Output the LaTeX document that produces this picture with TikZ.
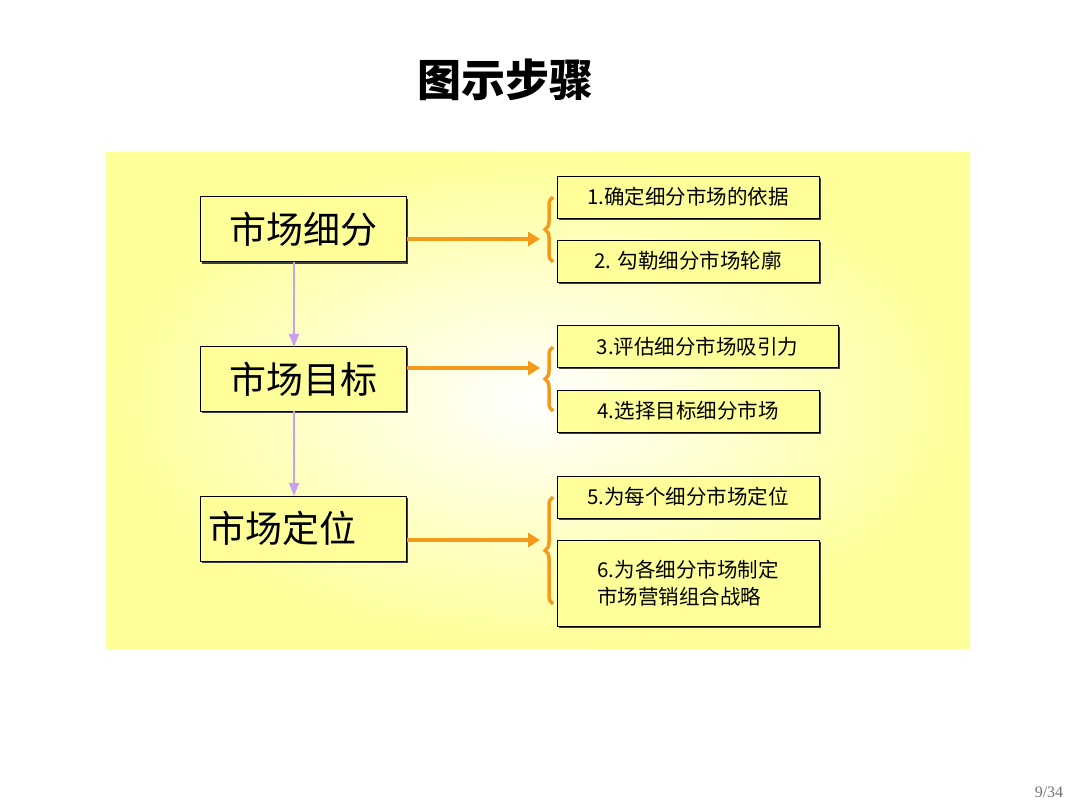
\documentclass[tikz,border=0pt]{standalone}
\usepackage{fontspec}
\setmainfont{Liberation Serif}
\newfontfamily\cjk{Noto Sans CJK SC}
\usetikzlibrary{arrows.meta,decorations.pathreplacing,shadows}
\definecolor{boxy}{HTML}{FFFF99}
\definecolor{orng}{HTML}{F39A1A}
\definecolor{purp}{HTML}{C9A0F0}
\begin{document}
\begin{tikzpicture}[x=1pt,y=-1pt,
  bigbox/.style={draw=black,fill=boxy,line width=1pt,minimum width=206pt,minimum height=65pt,font=\cjk\fontsize{37}{40}\selectfont,drop shadow={shadow xshift=2pt,shadow yshift=-2pt,fill=black!75,opacity=1}},
  smallbox/.style={draw=black,fill=boxy,line width=0.8pt,minimum height=42pt,font=\cjk\fontsize{20.5}{24}\selectfont,drop shadow={shadow xshift=1.6pt,shadow yshift=-1.6pt,fill=black!75,opacity=1}},
  oarrow/.style={draw=orng,line width=4pt,-{Triangle[length=12pt,width=14pt]}},
  parrow/.style={draw=purp,line width=1.8pt,-{Triangle[length=13pt,width=10pt]}},
  brace/.style={draw=orng,line width=3.5pt,decorate,decoration={brace,amplitude=8pt}}]
\useasboundingbox (0,0) rectangle (1080,810);
\fill[white] (0,0) rectangle (1080,810);
\shade[inner color=white,outer color=yellow!40] (106,153) rectangle (970,648);
\node[font=\cjk\bfseries\fontsize{44}{48}\selectfont] (title) at (505,80) {图示步骤};
\node[bigbox] (a) at (303,229.5) {市场细分};
\node[bigbox] (b) at (303,379) {市场目标};
\node[bigbox,text width=190pt,align=left] (c) at (303,528.5) {市场定位};
\node[smallbox,minimum width=262pt] (s1) at (688,197) {1.确定细分市场的依据};
\node[smallbox,minimum width=262pt] (s2) at (688,261) {2. 勾勒细分市场轮廓};
\node[smallbox,minimum width=281pt] (s3) at (697.5,346.5) {3.评估细分市场吸引力};
\node[smallbox,minimum width=262pt] (s4) at (688,411) {4.选择目标细分市场};
\node[smallbox,minimum width=262pt] (s5) at (688,497) {5.为每个细分市场定位};
\node[smallbox,minimum width=262pt,minimum height=86pt,align=left,font=\cjk\fontsize{20.5}{27}\selectfont] (s6) at (688,583) {6.为各细分市场制定\\市场营销组合战略};
\coordinate (t1) at (540,239); \coordinate (t2) at (540,368); \coordinate (t3) at (540,540);
\draw[oarrow] (a.east|-t1) -- (t1);
\draw[oarrow] (b.east|-t2) -- (t2);
\draw[oarrow] (c.east|-t3) -- (t3);
\draw[brace] (553,262) -- (553,197);
\draw[brace] (553,411) -- (553,347);
\draw[brace] (553,604) -- (553,497);
\draw[parrow] (294,262) -- (294,347);
\draw[parrow] (294,411) -- (294,496);
\node[font=\fontsize{16}{18}\selectfont,text=black!55] (pg) at (1049,792) {9/34};
\end{tikzpicture}
\end{document}
